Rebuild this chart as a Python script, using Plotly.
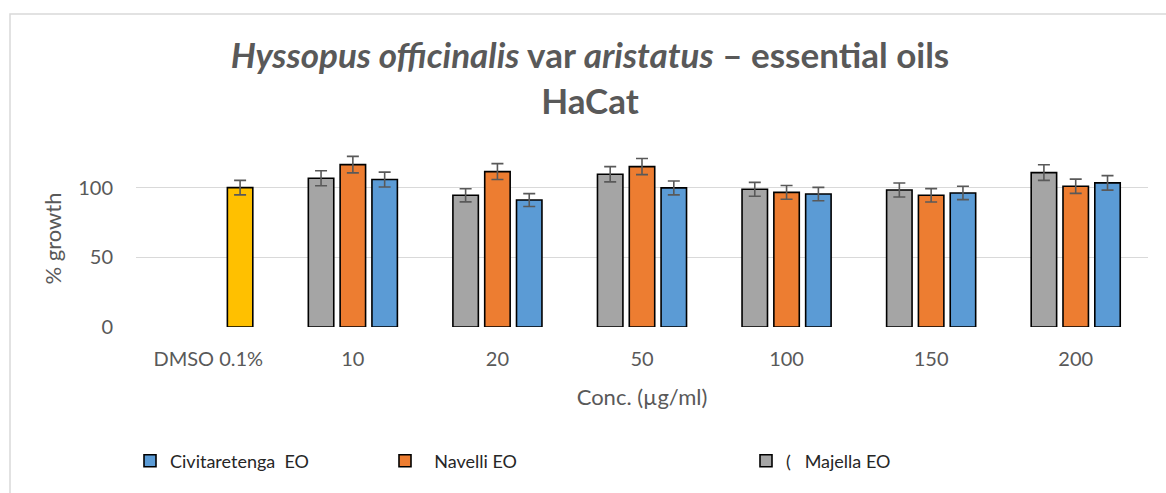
import plotly.graph_objects as go

# Concentrations (µg/ml) plus the vehicle control
categories = ["DMSO 0.1%", "10", "20", "50", "100", "150", "200"]

# % growth of HaCat cells (mean) and error (±)
majella = [None, 106.7, 94.5, 109.6, 98.8, 98.3, 110.8]
majella_err = [None, 5.4, 4.7, 5.5, 5.0, 5.0, 5.6]
navelli = [None, 116.5, 111.5, 115.1, 96.6, 94.5, 101.0]
navelli_err = [None, 5.9, 5.7, 5.8, 4.9, 4.8, 5.1]
civitaretenga = [None, 105.8, 91.1, 99.8, 95.4, 96.2, 103.4]
civitaretenga_err = [None, 5.3, 4.6, 5.0, 4.8, 4.8, 5.2]
dmso = [100.0, None, None, None, None, None, None]
dmso_err = [5.2, None, None, None, None, None, None]

FONT = "Lato"
TXT = "#595959"

# Plot-area geometry (px)
W_FIG, H_FIG = 1166, 493
L, R, T, B = 136, 18, 150, 166
W = W_FIG - L - R
H = H_FIG - T - B


def px_x(px):
    return (px - L) / W


def px_y(py):
    return (H_FIG - B - py) / H


def bar(name, y, err, color, group, legend, show=True):
    return go.Bar(
        name=name,
        x=categories,
        y=y,
        offsetgroup=group,
        marker=dict(color=color, line=dict(color="#000000", width=1.6)),
        error_y=dict(type="data", array=err, visible=True,
                     color="#595959", thickness=1.6, width=6),
        legend=legend,
        showlegend=show,
    )


fig = go.Figure()
fig.add_trace(bar("(\u00a0\u00a0\u00a0Majella EO", majella, majella_err, "#A5A5A5", "a", "legend3"))
fig.add_trace(bar("\u00a0\u00a0Navelli EO", navelli, navelli_err, "#ED7D31", "b", "legend2"))
fig.add_trace(bar("Civitaretenga\u00a0\u00a0EO", civitaretenga, civitaretenga_err, "#5B9BD5", "c", "legend"))
fig.add_trace(bar("DMSO 0.1%", dmso, dmso_err, "#FFC000", "c", "legend", show=False))

legend_common = dict(
    orientation="h",
    yanchor="middle",
    y=px_y(461),
    xanchor="left",
    font=dict(family=FONT, size=18, color="#262626"),
    bgcolor="rgba(0,0,0,0)",
    itemclick=False,
)

fig.update_layout(
    width=W_FIG,
    height=H_FIG,
    margin=dict(l=L, r=R, t=T, b=B, autoexpand=False),
    paper_bgcolor="white",
    plot_bgcolor="white",
    barmode="group",
    bargap=0.34,
    bargroupgap=0.2,
    font=dict(family=FONT, color=TXT),
    title=dict(
        text="<b><i>Hyssopus officinalis</i> var <i>aristatus</i> – essential oils<br>HaCat</b>",
        x=590 / W_FIG,
        xanchor="center",
        xref="container",
        yref="container",
        y=1 - 68 / H_FIG,
        yanchor="top",
        font=dict(family=FONT, size=35, color=TXT),
    ),
    xaxis=dict(
        type="category",
        showgrid=False,
        showline=False,
        zeroline=False,
        ticks="",
        ticklabelstandoff=18,
        tickfont=dict(family=FONT, size=20, color=TXT),
        title=dict(text="Conc. (µg/ml)", standoff=20,
                   font=dict(family=FONT, size=22, color=TXT)),
        fixedrange=True,
    ),
    yaxis=dict(
        range=[0, 127],
        tickvals=[0, 50, 100],
        showgrid=True,
        gridcolor="#D9D9D9",
        gridwidth=1.3,
        zeroline=False,
        showline=False,
        ticks="",
        ticklabelstandoff=22,
        tickfont=dict(family=FONT, size=20, color=TXT),
        title=dict(text="% growth", standoff=10,
                   font=dict(family=FONT, size=22, color=TXT)),
        fixedrange=True,
    ),
    legend=dict(legend_common, x=px_x(152 - 22)),
    legend2=dict(legend_common, x=px_x(407 - 22)),
    legend3=dict(legend_common, x=px_x(768 - 22)),
    shapes=[
        dict(type="rect", xref="paper", yref="paper",
             x0=px_x(10), x1=px_x(W_FIG + 20), y0=px_y(H_FIG + 20), y1=px_y(14),
             line=dict(color="#D9D9D9", width=1.5), fillcolor="rgba(0,0,0,0)",
             layer="below"),
    ],
)

fig.write_html("out.html")
